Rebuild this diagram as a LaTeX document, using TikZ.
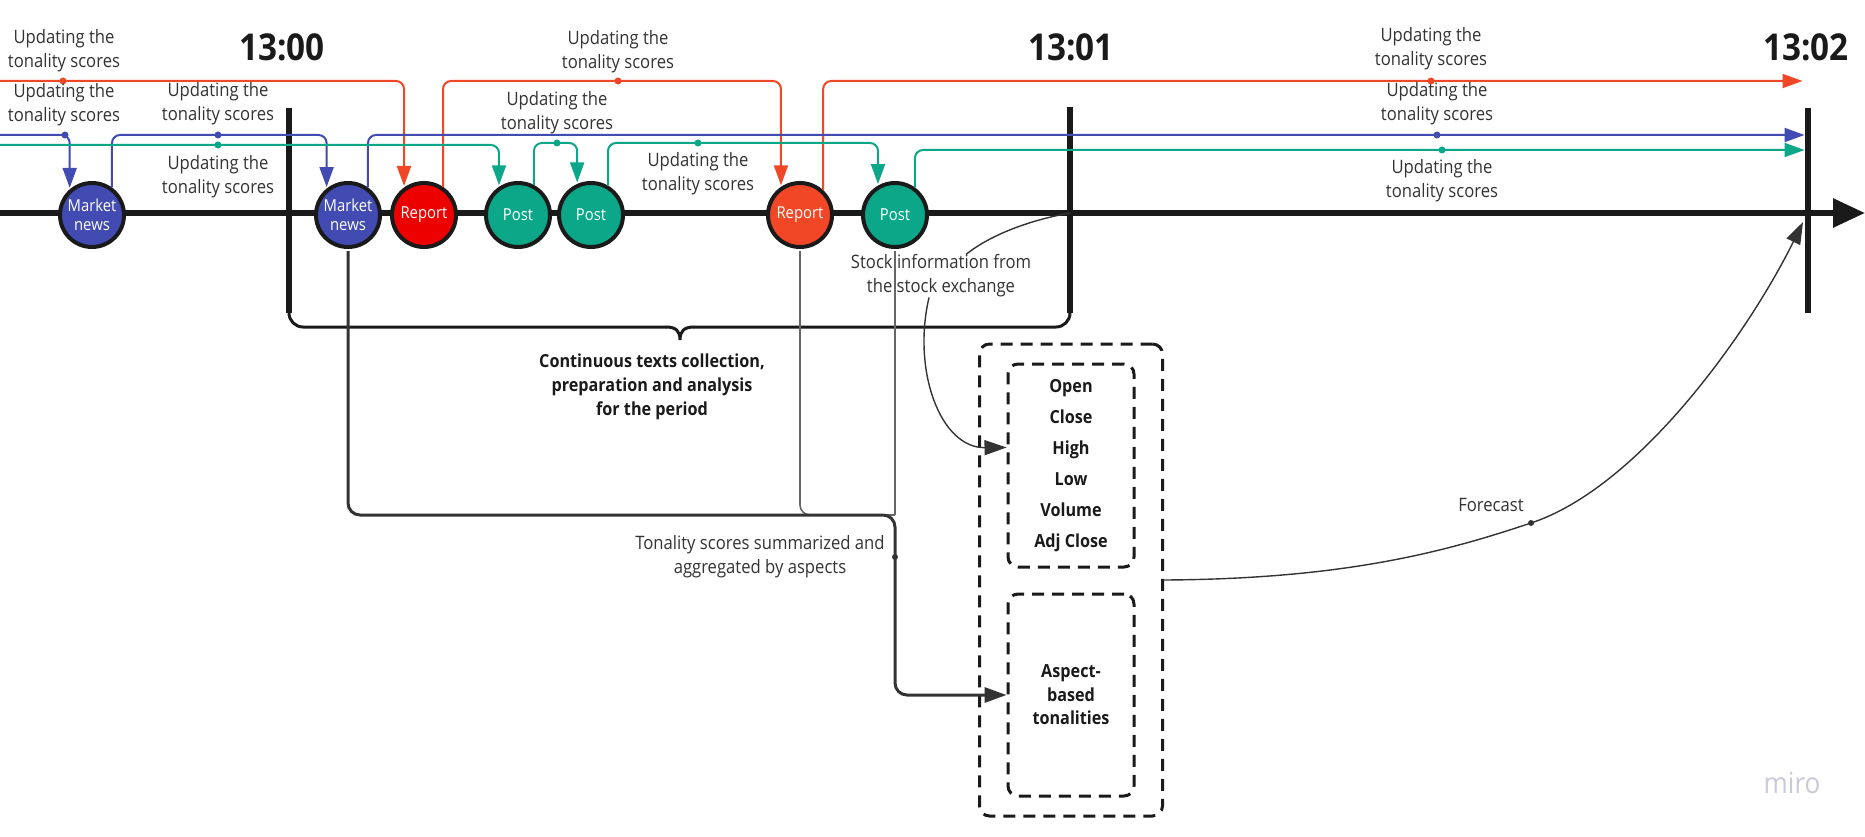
\documentclass[tikz,border=0pt]{standalone}
\usepackage{fontspec}
\setmainfont{Open Sans}[FakeStretch=0.9]
\usetikzlibrary{arrows.meta,calc}
\definecolor{cblue}{HTML}{414BB2}
\definecolor{cgreen}{HTML}{0CA789}
\definecolor{cred}{HTML}{EC0000}
\definecolor{corange}{HTML}{F24726}
\definecolor{ink}{HTML}{1A1A1A}
\definecolor{txt}{HTML}{333333}
\definecolor{gline}{HTML}{666666}
\definecolor{mirog}{HTML}{C9C9D9}
\begin{document}
\begin{tikzpicture}[x=1pt,y=-1pt,
  ev/.style={circle, draw=ink, line width=4pt, minimum size=64pt, inner sep=0pt,
    text=white, align=center, font=\fontsize{16.5}{19.5}\selectfont},
  flow/.style={line width=2pt, rounded corners=8pt, shorten >=1.5pt,
    -{Triangle[length=20pt,width=14pt]}},
  dotm/.style={circle, fill, inner sep=0pt, minimum size=7pt},
  lbl/.style={font=\fontsize{18.5}{24}\selectfont, text=txt, align=center, inner sep=0pt},
  blbl/.style={font=\fontsize{18}{24}\selectfont\bfseries, text=ink, align=center, inner sep=0pt},
  timel/.style={font=\fontsize{37}{40}\selectfont\bfseries, text=ink, inner sep=0pt},
  tickline/.style={line width=6pt, draw=ink},
  bracel/.style={line width=3pt, draw=ink, line cap=round},
  dbox/.style={draw=ink, line width=3pt, dash pattern=on 12pt off 8pt, rounded corners=10pt,
    inner sep=0pt, align=center, text=ink},
  boxtxt/.style={font=\fontsize{18}{31}\selectfont\bfseries},
  thinl/.style={line width=1.4pt, draw=txt},
  grayl/.style={line width=1.6pt, draw=gline},
  bigtip/.style={-{Triangle[length=22pt,width=15pt]}}
]
\useasboundingbox (0,0) rectangle (1865,837);
\fill[white] (0,0) rectangle (1865,837);

% time axis
\coordinate (axS) at (0,213);
\coordinate (axE) at (1865,213);
\draw[line width=6pt, draw=ink, -{Triangle[length=32pt,width=28pt]}] (axS) -- (axE);

% ticks
\coordinate (t0top) at (289,108); \coordinate (t0bot) at (289,313);
\coordinate (t1top) at (1070,107); \coordinate (t1bot) at (1070,313);
\coordinate (t2top) at (1808,108); \coordinate (t2bot) at (1808,313);
\draw[tickline] (t0top) -- (t0bot);
\draw[tickline] (t1top) -- (t1bot);
\draw[tickline] (t2top) -- (t2bot);
\node[timel] (lab0) at (282,47) {13:00};
\node[timel] (lab1) at (1071,47) {13:01};
\node[timel] (lab2) at (1806,47) {13:02};

% brace
\coordinate (brL) at (666,327); \coordinate (brTip) at (680,340); \coordinate (brR) at (694,327);
\draw[bracel, rounded corners=14pt] (t0bot) |- (brL);
\draw[bracel] (brL) .. controls (676,327) and (680,331) .. (brTip) .. controls (680,331) and (684,327) .. (brR);
\draw[bracel, rounded corners=14pt] (brR) -| (t1bot);
\node[blbl] (brlbl) at (652,387) {Continuous texts collection,\\preparation and analysis\\for the period};

% events
\node[ev, fill=cblue] (MN1) at (92,215) {Market\\news};
\node[ev, fill=cblue] (MN2) at (348,215) {Market\\news};
\node[ev, fill=cred] (Rep1) at (424,215) {Report};
\node[ev, fill=cgreen] (Post1) at (518,215) {Post};
\node[ev, fill=cgreen] (Post2) at (591,215) {Post};
\node[ev, fill=corange] (Rep2) at (800,215) {Report};
\node[ev, fill=cgreen] (Post3) at (895,215) {Post};

% red updates
\coordinate (r1s) at (0,81); \coordinate (r1m) at (63,81);
\coordinate (r2m) at (618,81);
\coordinate (r3m) at (1431,81); \coordinate (r3e) at (1804,81);
\draw[flow, draw=corange] (r1s) -| (Rep1.126);
\draw[flow, draw=corange] (Rep1.56) |- (r2m) -| (Rep2.124);
\draw[flow, draw=corange] (Rep2.47) |- (r3e);
\foreach \p in {r1m,r2m,r3m} \node[dotm, fill=corange] at (\p) {};

% blue updates
\coordinate (b1s) at (0,135); \coordinate (b1m) at (65,135);
\coordinate (b2m) at (218,135);
\coordinate (b3m) at (1437,135); \coordinate (b3e) at (1806,135);
\draw[flow, draw=cblue] (b1s) -| (MN1.131);
\draw[flow, draw=cblue] (MN1.54) |- (b2m) -| (MN2.129);
\draw[flow, draw=cblue] (MN2.54) |- (b3e);
\foreach \p in {b1m,b2m,b3m} \node[dotm, fill=cblue] at (\p) {};

% green updates
\coordinate (g1s) at (0,145); \coordinate (g1m) at (218,145);
\coordinate (g2m) at (557,143);
\coordinate (g3m) at (698,143);
\coordinate (g4m) at (1442,150); \coordinate (g4e) at (1806,150);
\draw[flow, draw=cgreen] (g1s) -| (Post1.124);
\draw[flow, draw=cgreen] (Post1.62) |- (g2m) -| (Post2.114);
\draw[flow, draw=cgreen] (Post2.60) |- (g3m) -| (Post3.120);
\draw[flow, draw=cgreen] (Post3.54) |- (g4e);
\foreach \p in {g1m,g2m,g3m,g4m} \node[dotm, fill=cgreen] at (\p) {};

% update labels
\node[lbl] (lr1) at (64,51) {Updating the\\tonality scores};
\node[lbl] (lb1) at (64,105) {Updating the\\tonality scores};
\node[lbl] (lb2) at (218,104) {Updating the\\tonality scores};
\node[lbl] (lg1) at (218,177) {Updating the\\tonality scores};
\node[lbl] (lr2) at (618,52) {Updating the\\tonality scores};
\node[lbl] (lg2) at (557,113) {Updating the\\tonality scores};
\node[lbl] (lg3) at (698,174) {Updating the\\tonality scores};
\node[lbl] (lr3) at (1431,49) {Updating the\\tonality scores};
\node[lbl] (lb3) at (1437,104) {Updating the\\tonality scores};
\node[lbl] (lg4) at (1442,181) {Updating the\\tonality scores};

% boxes
\node[dbox, minimum width=183pt, minimum height=472pt] (obox) at (1071,580) {};
\node[dbox, boxtxt, minimum width=126pt, minimum height=203pt] (ibox1) at (1071,465.5)
  {Open\\Close\\High\\Low\\Volume\\Adj Close};
\node[dbox, font=\fontsize{18}{23.5}\selectfont\bfseries, minimum width=126pt, minimum height=202pt] (ibox2) at (1071,695)
  {Aspect-\\based\\tonalities};

% aggregation lines
\coordinate (aggJ) at (895,515);
\coordinate (aggM) at (895,557);
\draw[grayl, rounded corners=10pt] ([yshift=-2pt]Rep2.south) |- (aggJ);
\draw[grayl] ([yshift=-2pt]Post3.south) -- (aggJ);
\draw[line width=3pt, draw=txt, rounded corners=12pt, bigtip] ([yshift=-2pt]MN2.south) |- (aggJ) |- (ibox2.west);
\node[dotm, fill=txt, minimum size=6pt] at (aggM) {};
\node[lbl] (agglbl) at (760,557) {Tonality scores summarized and\\aggregated by aspects};

% stock information
\coordinate (stk) at (1070,213);
\node[lbl] (stocklbl) at (941,276) {Stock information from\\the stock exchange};
\draw[thinl] (stk) .. controls (1030,220) and (990,235) .. ([xshift=25pt]stocklbl.north);
\draw[thinl, bigtip] ([xshift=-12pt]stocklbl.south) .. controls (912,370) and (940,448) .. ([yshift=18pt]ibox1.west);

% forecast
\coordinate (fcm) at (1531,523);
\coordinate (fcEnd) at (1803,222);
\draw[thinl, bigtip] (obox.east) .. controls (1350,579) and (1450,550) .. (fcm)
  .. controls (1640,487) and (1750,330) .. (fcEnd);
\node[dotm, fill=txt, minimum size=6pt] at (fcm) {};
\node[lbl] (fclbl) at (1491,505) {Forecast};

% watermark
\node[font=\fontsize{29}{30}\selectfont, text=mirog, inner sep=0pt] (miro) at (1792,783) {miro};
\end{tikzpicture}
\end{document}
